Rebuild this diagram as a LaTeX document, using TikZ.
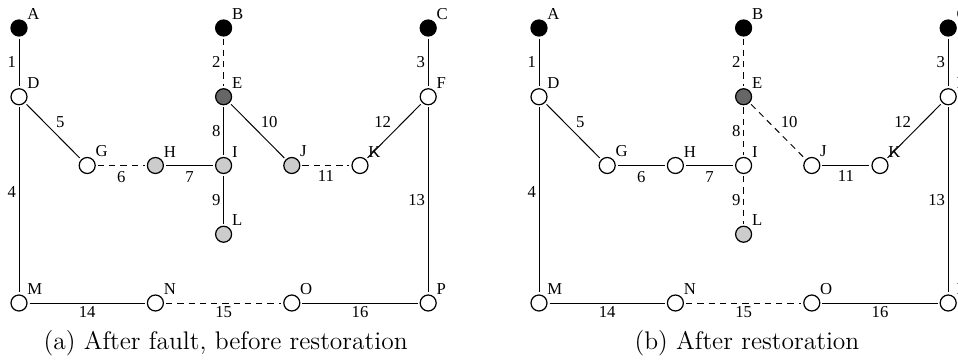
\documentclass[tikz,border=0pt]{standalone}
\usepackage{fontspec}
\newfontfamily\timesfont{Liberation Serif}
\usepackage{tikz}

\begin{document}
\begin{tikzpicture}[
  x=1.364cm, y=1.375cm,
  bus/.style={circle, draw=black, fill=white, line width=0.7pt, minimum size=0.32cm, inner sep=0pt, outer sep=1.5pt},
  src/.style={bus, fill=black},
  faulted/.style={bus, fill=black!60},
  unserved/.style={bus, fill=black!20},
  buslabel/.style={font=\timesfont\fontsize{9.5}{11}\selectfont, inner sep=0.3pt},
  num/.style={font=\timesfont\fontsize{9.5}{11}\selectfont, inner sep=1.5pt},
  live/.style={line width=0.55pt},
  opened/.style={live, dash pattern=on 3.6pt off 2.8pt},
  subcap/.style={font=\fontsize{14.5}{17}\selectfont}
]
\useasboundingbox (-0.38cm,-1.16cm) rectangle (18.78cm,6.06cm);
\clip (-0.38cm,-1.16cm) rectangle (18.78cm,6.06cm);

% (a) After fault, before restoration
% Sources
\node[src, label={[buslabel]north east:A}] (aA) at (0,4) {};
\node[src, label={[buslabel]north east:B}] (aB) at (3,4) {};
\node[src, label={[buslabel]north east:C}] (aC) at (6,4) {};

% Buses
\node[bus, label={[buslabel]north east:D}] (aD) at (0,3) {};
\node[faulted, label={[buslabel]north east:E}] (aE) at (3,3) {};
\node[bus, label={[buslabel]north east:F}] (aF) at (6,3) {};
\node[bus, label={[buslabel]north east:G}] (aG) at (1,2) {};
\node[unserved, label={[buslabel]north east:H}] (aH) at (2,2) {};
\node[unserved, label={[buslabel]north east:I}] (aI) at (3,2) {};
\node[unserved, label={[buslabel]north east:J}] (aJ) at (4,2) {};
\node[bus, label={[buslabel]north east:K}] (aK) at (5,2) {};
\node[unserved, label={[buslabel]north east:L}] (aL) at (3,1) {};
\node[bus, label={[buslabel]north east:M}] (aM) at (0,0) {};
\node[bus, label={[buslabel]north east:N}] (aN) at (2,0) {};
\node[bus, label={[buslabel]north east:O}] (aO) at (4,0) {};
\node[bus, label={[buslabel]north east:P}] (aP) at (6,0) {};

% Lines
\draw[live] (aA) -- node[num, left] {1} (aD);
\draw[opened] (aB) -- node[num, left] {2} (aE);
\draw[live] (aC) -- node[num, left] {3} (aF);
\draw[live] (aD) -- node[num, left, pos=0.46] {4} (aM);
\draw[live] (aD) -- node[num, above right] {5} (aG);
\draw[opened] (aG) -- node[num, below, yshift=-1.5pt] {6} (aH);
\draw[live] (aH) -- node[num, below, yshift=-1.5pt] {7} (aI);
\draw[live] (aE) -- node[num, left] {8} (aI);
\draw[live] (aI) -- node[num, left] {9} (aL);
\draw[live] (aE) -- node[num, above right] {10} (aJ);
\draw[opened] (aJ) -- node[num, below, yshift=-1pt] {11} (aK);
\draw[live] (aF) -- node[num, above left] {12} (aK);
\draw[live] (aF) -- node[num, left] {13} (aP);
\draw[live] (aM) -- node[num, below] {14} (aN);
\draw[opened] (aN) -- node[num, below] {15} (aO);
\draw[live] (aO) -- node[num, below] {16} (aP);

\node[subcap] (capa) at (3.03,-0.58) {(a) After fault, before restoration};

% (b) After restoration
\begin{scope}[xshift=10.4cm]
% Sources
\node[src, label={[buslabel]north east:A}] (bA) at (0,4) {};
\node[src, label={[buslabel]north east:B}] (bB) at (3,4) {};
\node[src, label={[buslabel]north east:C}] (bC) at (6,4) {};

% Buses
\node[bus, label={[buslabel]north east:D}] (bD) at (0,3) {};
\node[faulted, label={[buslabel]north east:E}] (bE) at (3,3) {};
\node[bus, label={[buslabel]north east:F}] (bF) at (6,3) {};
\node[bus, label={[buslabel]north east:G}] (bG) at (1,2) {};
\node[bus, label={[buslabel]north east:H}] (bH) at (2,2) {};
\node[bus, label={[buslabel]north east:I}] (bI) at (3,2) {};
\node[bus, label={[buslabel]north east:J}] (bJ) at (4,2) {};
\node[bus, label={[buslabel]north east:K}] (bK) at (5,2) {};
\node[unserved, label={[buslabel]north east:L}] (bL) at (3,1) {};
\node[bus, label={[buslabel]north east:M}] (bM) at (0,0) {};
\node[bus, label={[buslabel]north east:N}] (bN) at (2,0) {};
\node[bus, label={[buslabel]north east:O}] (bO) at (4,0) {};
\node[bus, label={[buslabel]north east:P}] (bP) at (6,0) {};

% Lines
\draw[live] (bA) -- node[num, left] {1} (bD);
\draw[opened] (bB) -- node[num, left] {2} (bE);
\draw[live] (bC) -- node[num, left] {3} (bF);
\draw[live] (bD) -- node[num, left, pos=0.46] {4} (bM);
\draw[live] (bD) -- node[num, above right] {5} (bG);
\draw[live] (bG) -- node[num, below, yshift=-1.5pt] {6} (bH);
\draw[live] (bH) -- node[num, below, yshift=-1.5pt] {7} (bI);
\draw[opened] (bE) -- node[num, left] {8} (bI);
\draw[opened] (bI) -- node[num, left] {9} (bL);
\draw[opened] (bE) -- node[num, above right] {10} (bJ);
\draw[live] (bJ) -- node[num, below, yshift=-1pt] {11} (bK);
\draw[live] (bF) -- node[num, above left] {12} (bK);
\draw[live] (bF) -- node[num, left] {13} (bP);
\draw[live] (bM) -- node[num, below] {14} (bN);
\draw[opened] (bN) -- node[num, below] {15} (bO);
\draw[live] (bO) -- node[num, below] {16} (bP);

\node[subcap] (capb) at (3.05,-0.58) {(b) After restoration};
\end{scope}

\end{tikzpicture}
\end{document}
